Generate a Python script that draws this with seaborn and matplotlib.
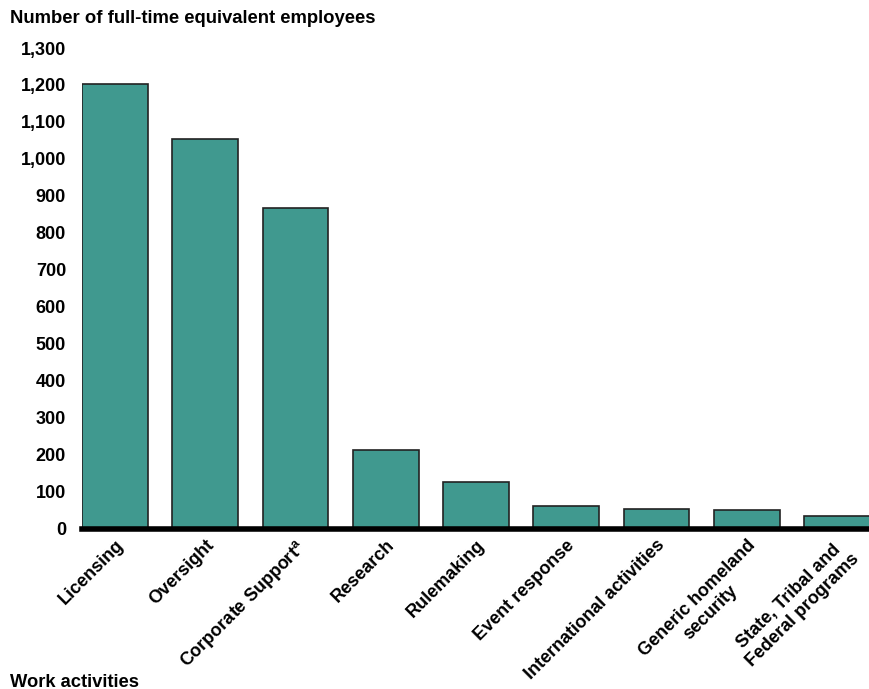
#! /usr/bin/env python
# Full-time equivalent employees by work activity
import matplotlib
matplotlib.use("Agg")
import matplotlib.pyplot as plt
from matplotlib.ticker import FuncFormatter
import pandas as pd
import seaborn as sns

# data
activities = ["Licensing", "Oversight", "Corporate Support$^{\\mathregular{a}}$",
              "Research", "Rulemaking", "Event response",
              "International activities", "Generic homeland\nsecurity",
              "State, Tribal and\nFederal programs"]
fte = [1203, 1053, 867, 213, 126, 60, 52, 49, 33]
yticks = list(range(0, 1301, 100))

df = pd.DataFrame({"activity": activities, "fte": fte})

# settings
sns.set_style("white")
plt.rcParams['font.family'] = ['Liberation Sans', 'DejaVu Sans']
plt.rcParams['font.weight'] = 'bold'
plt.rcParams['text.color'] = 'black'
plt.rcParams['xtick.color'] = 'black'
plt.rcParams['ytick.color'] = 'black'
plt.rcParams['mathtext.default'] = 'regular'

fig = plt.figure(figsize=(8.7, 6.89), dpi=100)
ax = fig.add_axes([0.0943, 0.2329, 0.9057, 0.6974])

sns.barplot(data=df, x="activity", y="fte", color="#40998f", saturation=1,
            width=0.73, edgecolor="#222222", linewidth=1.2, ax=ax)

ax.set_ylim(0, 1300)
ax.set_xlim(-0.365, 8.365)
ax.set_yticks(yticks)
ax.yaxis.set_major_formatter(FuncFormatter(lambda v, p: f"{int(v):,}"))
ax.tick_params(axis="y", length=0, labelsize=13, pad=11.5)
ax.tick_params(axis="x", length=0, pad=6)
ax.set_xticks(range(len(activities)))
ax.set_xticklabels(activities, rotation=45, ha="right", rotation_mode="anchor",
                   fontsize=13, fontweight="bold", multialignment="center")
for lab in ax.get_yticklabels():
    lab.set_fontweight("bold")

for side in ["top", "right", "left"]:
    ax.spines[side].set_visible(False)
ax.spines["bottom"].set_linewidth(4)
ax.spines["bottom"].set_color("black")
ax.set_xlabel("")
ax.set_ylabel("")

fig.text(0.011, 0.973, "Number of full-time equivalent employees",
         fontsize=13.3, fontweight="bold", va="center", ha="left")
fig.text(0.011, 0.01, "Work activities", fontsize=13.2, fontweight="bold",
         va="center", ha="left")

fig.savefig("out.png", dpi=100)
plt.close()
